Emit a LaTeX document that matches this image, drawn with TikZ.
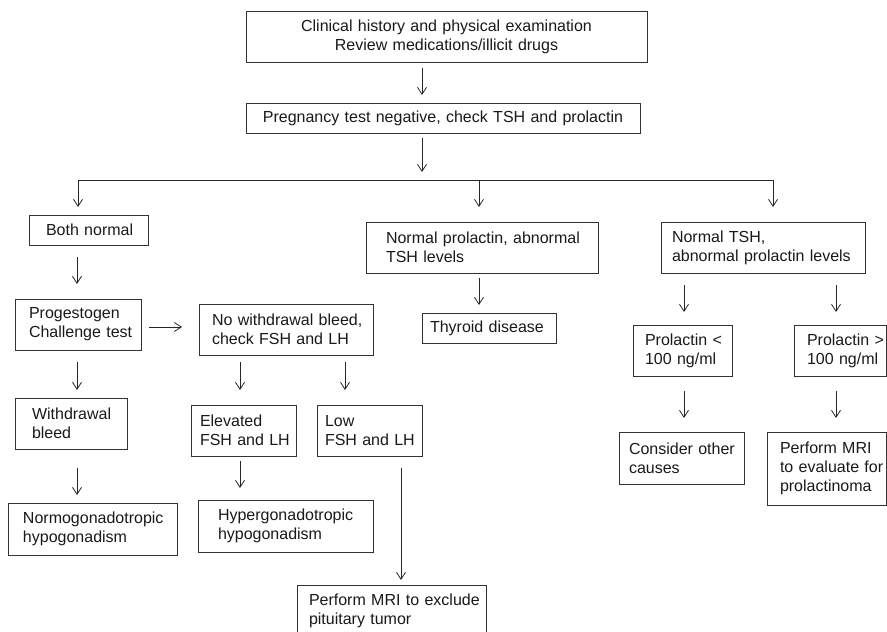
\documentclass[tikz,border=0pt]{standalone}
\usepackage{fontspec}
\setmainfont{Liberation Sans}
\usetikzlibrary{arrows.meta}
\begin{document}
\begin{tikzpicture}[x=1pt,y=-1pt,
  font=\fontsize{16}{19}\selectfont,
  box/.style={draw=black!80, line width=0.9pt, anchor=north west, align=left,
    inner ysep=0pt, outer sep=0pt, text=black!90},
  arr/.style={draw=black!85, line width=0.8pt, -{Straight Barb[length=7pt,width=9pt]}},
  ln/.style={draw=black!85, line width=0.8pt}]
\useasboundingbox (0,0) rectangle (887,632);

% boxes
\node[box, align=center, minimum width=401pt, minimum height=51pt, inner xsep=4pt, text width=393pt] (b1) at (246,11)
  {Clinical history and physical examination\\Review medications/illicit drugs};
\node[box, align=center, minimum width=394pt, minimum height=30pt, inner xsep=4pt, text width=386pt] (b2) at (246,103)
  {Pregnancy test negative, check TSH and prolactin};
\node[box, minimum width=119pt, minimum height=30pt, inner xsep=17pt, text width=85pt] (bn) at (29,215)
  {\mbox{Both normal}};
\node[box, minimum width=232pt, minimum height=51pt, inner xsep=20pt, text width=192pt] (bp) at (366,222)
  {\mbox{Normal prolactin, abnormal}\\\mbox{TSH levels}};
\node[box, minimum width=204pt, minimum height=51pt, inner xsep=11pt, text width=182pt] (bt) at (661,222)
  {\mbox{Normal TSH,}\\\mbox{abnormal prolactin levels}};
\node[box, minimum width=126pt, minimum height=51pt, inner xsep=14pt, text width=98pt] (bpc) at (15,299)
  {\mbox{Progestogen}\\\mbox{Challenge test}};
\node[box, minimum width=174pt, minimum height=51pt, inner xsep=13pt, text width=148pt] (bnw) at (199,304)
  {\mbox{No withdrawal bleed,}\\\mbox{check FSH and LH}};
\node[box, minimum width=134pt, minimum height=30pt, inner xsep=8pt, text width=118pt] (btd) at (422,313)
  {\mbox{Thyroid disease}};
\node[box, minimum width=99pt, minimum height=51pt, inner xsep=12pt, text width=75pt] (bpl) at (633,325)
  {\mbox{Prolactin <}\\\mbox{100 ng/ml}};
\node[box, minimum width=92pt, minimum height=51pt, inner xsep=13pt, text width=66pt] (bpg) at (794,325)
  {\mbox{Prolactin >}\\\mbox{100 ng/ml}};
\node[box, minimum width=112pt, minimum height=51pt, inner xsep=17pt, text width=78pt] (bwb) at (15,398)
  {\mbox{Withdrawal}\\\mbox{bleed}};
\node[box, minimum width=105pt, minimum height=51pt, inner xsep=9pt, text width=87pt] (bel) at (191,405)
  {\mbox{Elevated}\\\mbox{FSH and LH}};
\node[box, minimum width=105pt, minimum height=51pt, inner xsep=8pt, text width=89pt] (blo) at (317,405)
  {\mbox{Low}\\\mbox{FSH and LH}};
\node[box, minimum width=175pt, minimum height=52pt, inner xsep=20pt, text width=135pt] (bhy) at (198,500)
  {\mbox{Hypergonadotropic}\\\mbox{hypogonadism}};
\node[box, minimum width=169pt, minimum height=52pt, inner xsep=15pt, text width=139pt] (bno) at (8,503)
  {\mbox{Normogonadotropic}\\\mbox{hypogonadism}};
\node[box, minimum width=189pt, minimum height=51pt, inner xsep=12pt, text width=165pt] (bmri) at (297,585)
  {\mbox{Perform MRI to exclude}\\\mbox{pituitary tumor}};
\node[box, minimum width=125pt, minimum height=52pt, inner xsep=10pt, text width=105pt] (bco) at (619,432)
  {\mbox{Consider other}\\\mbox{causes}};
\node[box, minimum width=119pt, minimum height=73pt, inner xsep=13pt, text width=93pt] (bmp) at (767,432)
  {\mbox{Perform MRI}\\\mbox{to evaluate for}\\\mbox{prolactinoma}};

% branch
\coordinate (jt) at (422,180);
\coordinate (j1) at (78,180);
\coordinate (j2) at (479,180);
\coordinate (j3) at (773,180);

\draw[arr, shorten <=6pt, shorten >=8pt] (b1.south -| 422,0) -- (b2.north -| 422,0);
\draw[arr, shorten <=5pt, shorten >=8pt] (b2.south -| jt) -- (jt);
\draw[ln] (j1) -- (j3);
\draw[arr, shorten >=8pt] (j1) -- (bn.north -| j1);
\draw[arr, shorten >=15pt] (j2) -- (bp.north -| j2);
\draw[arr, shorten >=15pt] (j3) -- (bt.north -| j3);

% left branch
\draw[arr, shorten <=12pt, shorten >=15pt] (bn.south -| 77,0) -- (bpc.north -| 77,0);
\draw[arr, shorten <=8pt, shorten >=17pt] (bpc.east |- 0,327) -- (bnw.west |- 0,327);
\draw[arr, shorten <=12pt, shorten >=8pt] (bpc.south -| 77,0) -- (bwb.north -| 77,0);
\draw[arr, shorten <=19pt, shorten >=8pt] (bwb.south -| 77,0) -- (bno.north -| 77,0);
\draw[arr, shorten <=7pt, shorten >=15pt] (bnw.south -| 240,0) -- (bel.north -| 240,0);
\draw[arr, shorten <=7pt, shorten >=15pt] (bnw.south -| 345,0) -- (blo.north -| 345,0);
\draw[arr, shorten <=5pt, shorten >=12pt] (bel.south -| 240,0) -- (bhy.north -| 240,0);
\draw[arr, shorten <=12pt, shorten >=5pt] (blo.south -| 401,0) -- (bmri.north -| 401,0);

% middle and right branches
\draw[arr, shorten <=5pt, shorten >=8pt] (bp.south -| 479,0) -- (btd.north -| 479,0);
\draw[arr, shorten <=12pt, shorten >=13pt] (bt.south -| 684,0) -- (bpl.north -| 684,0);
\draw[arr, shorten <=12pt, shorten >=13pt] (bt.south -| 836,0) -- (bpg.north -| 836,0);
\draw[arr, shorten <=15pt, shorten >=14pt] (bpl.south -| 684,0) -- (bco.north -| 684,0);
\draw[arr, shorten <=15pt, shorten >=14pt] (bpg.south -| 836,0) -- (bmp.north -| 836,0);
\end{tikzpicture}
\end{document}
